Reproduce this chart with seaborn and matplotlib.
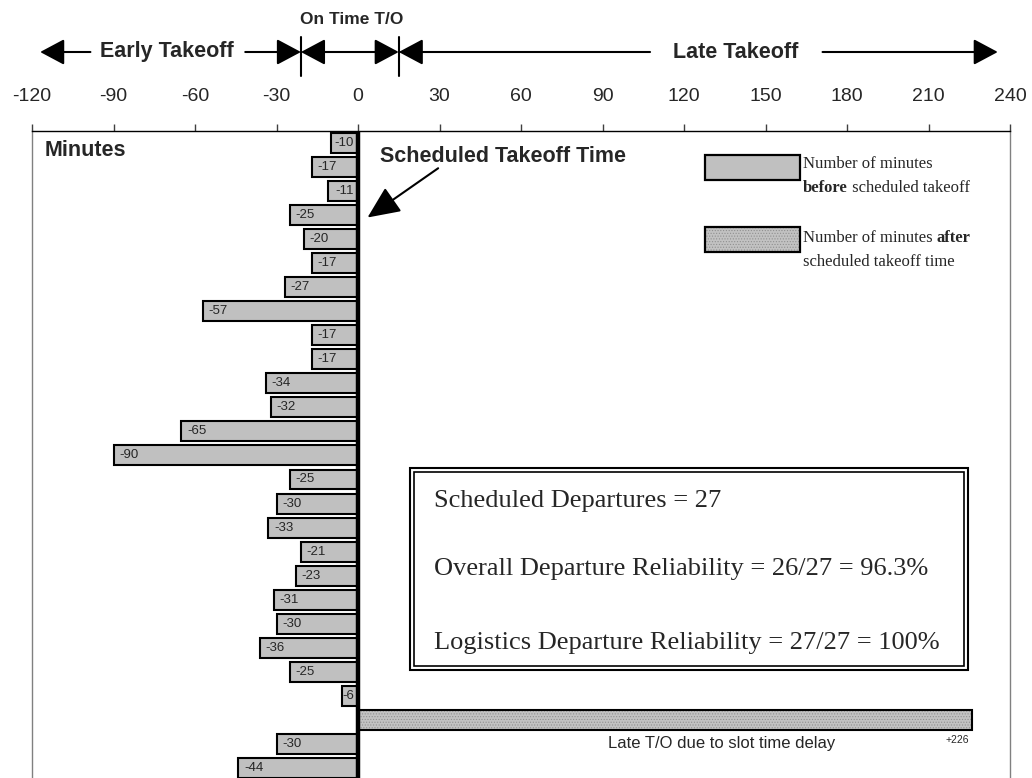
import matplotlib
matplotlib.use("Agg")
import matplotlib.pyplot as plt
import matplotlib.colors as mcolors
import matplotlib.transforms as mtransforms
from matplotlib.patches import Rectangle
import pandas as pd
import seaborn as sns

# ---------------- DATA ----------------

minutes = [-10, -17, -11, -25, -20, -17, -27, -57, -17, -17, -34, -32, -65, -90,
           -25, -30, -33, -21, -23, -31, -30, -36, -25, -6, 226, -30, -44]
flights = [str(i + 1) for i in range(len(minutes))]
timing = ["after" if m > 0 else "before" for m in minutes]
x_ticks = list(range(-120, 241, 30))
on_time_window = [-21, 15]
stats_lines = ["Scheduled Departures = 27",
               "Overall Departure Reliability = 26/27 = 96.3%",
               "Logistics Departure Reliability = 27/27 = 100%"]

df = pd.DataFrame({"flight": flights, "minutes": minutes, "timing": timing})

# ---------------- STYLE ----------------

sns.set_style("white")
plt.rcParams["font.family"] = ["Liberation Sans", "DejaVu Sans"]
plt.rcParams["hatch.linewidth"] = 0.5
SERIF = ["Liberation Serif", "DejaVu Serif"]

W, H = 1032, 778
fig = plt.figure(figsize=(W / 100, H / 100), dpi=100)


def fx(x):
    return x / W


def fy(y):
    return 1 - y / H


ax = fig.add_axes([fx(32), 0, 978 / W, 647 / H])

# ---------------- BARS ----------------

sns.barplot(data=df, x="minutes", y="flight", hue="timing", order=flights,
            palette={"before": "#c0c0c0", "after": "#c2c2c2"}, dodge=False,
            orient="h", width=0.83, edgecolor="black", linewidth=1.5,
            errorbar=None, legend=False, ax=ax)

for p in ax.patches:
    if p.get_width() > 0:
        p.set_hatch("......")
        p._hatch_color = mcolors.to_rgba("#909090")

ax.axvline(0, color="black", lw=3.2, zorder=5)

ax.set_xlim(-120, 240)
ax.set_ylim(len(minutes) - 1 + 0.42, -0.5)
ax.set_xlabel("")
ax.set_ylabel("")
ax.set_yticks([])
ax.xaxis.tick_top()
ax.set_xticks(x_ticks)
ax.set_xticklabels([str(t) for t in x_ticks])
ax.tick_params(axis="x", top=True, bottom=False, labeltop=True, labelbottom=False,
               direction="out", length=5, width=1, color="#404040", pad=14, labelsize=14)

ax.spines["bottom"].set_visible(False)
ax.spines["top"].set_color("black")
ax.spines["top"].set_linewidth(1)
for side in ["left", "right"]:
    ax.spines[side].set_color("#808080")
    ax.spines[side].set_linewidth(1)

# bar value labels
for i, m in enumerate(minutes):
    if m > 0:
        ax.text(m - 1, i + 0.85, f"+{m}", ha="right", va="center", fontsize=7.5)
        ax.text(134, i + 1.0, "Late T/O due to slot time delay", ha="center",
                va="center", fontsize=12)
    elif abs(m) <= 11:
        ax.annotate(str(m), xy=(0, i), xytext=(-3, 0), textcoords="offset points",
                    ha="right", va="center", fontsize=9.5, zorder=6)
    else:
        ax.annotate(str(m), xy=(m, i), xytext=(4, 0), textcoords="offset points",
                    ha="left", va="center", fontsize=9.5, zorder=6)

# ---------------- TOP ARROWS ----------------

trans = mtransforms.blended_transform_factory(ax.transData, fig.transFigure)
y_arr = fy(52)
head = dict(arrowstyle="-|>,head_length=0.75,head_width=0.4", mutation_scale=20,
            color="black", lw=1.5, shrinkA=0, shrinkB=0)


def arrow(tip, tail, style=None):
    props = dict(head)
    if style:
        props["arrowstyle"] = style
    ax.annotate("", xy=(tip, y_arr), xytext=(tail, y_arr), xycoords=trans,
                textcoords=trans, arrowprops=props, annotation_clip=False)


arrow(-117, -98.5)
arrow(on_time_window[0], -41.5)
arrow(on_time_window[1], on_time_window[0],
      "<|-|>,head_length=0.75,head_width=0.4")
arrow(on_time_window[1], 107.5)
arrow(235.5, 171)

for xv in on_time_window:
    ax.plot([xv, xv], [fy(37), fy(76)], color="black", lw=1.5, transform=trans,
            clip_on=False)

ax.text(-70.5, y_arr, "Early Takeoff", transform=trans, ha="center", va="center",
        fontsize=15.5, fontweight="bold")
ax.text(139, y_arr, "Late Takeoff", transform=trans, ha="center", va="center",
        fontsize=15.5, fontweight="bold")
ax.text(-2.5, fy(19), "On Time T/O", transform=trans, ha="center", va="center",
        fontsize=12.5, fontweight="bold")

# ---------------- INNER ANNOTATIONS ----------------

fig.text(fx(45), fy(151), "Minutes", ha="left", va="center", fontsize=15.5,
         fontweight="bold")
fig.text(fx(380), fy(156), "Scheduled Takeoff Time", ha="left", va="center",
         fontsize=15.5, fontweight="bold")
ax.annotate("", xy=(3.5, 3.1), xytext=(29.5, 1.05),
            arrowprops=dict(arrowstyle="-|>,head_length=1.0,head_width=0.45",
                            mutation_scale=20, color="black", lw=1.5,
                            shrinkA=0, shrinkB=0))

# legend (drawn by hand)
fig.add_artist(Rectangle((fx(705), fy(180)), 95 / W, 25 / H, transform=fig.transFigure,
                         facecolor="#c0c0c0", edgecolor="black", lw=1.6))
r2 = Rectangle((fx(705), fy(252)), 95 / W, 25 / H, transform=fig.transFigure,
               facecolor="#c2c2c2", edgecolor="black", lw=1.6, hatch="......")
r2._hatch_color = mcolors.to_rgba("#909090")
fig.add_artist(r2)

fig.text(fx(803), fy(164), "Number of minutes", ha="left", va="center",
         fontsize=12, family=SERIF)
t_before = fig.text(fx(803), fy(188), "before", ha="left", va="center",
                    fontsize=12, family=SERIF, fontweight="bold")
t_l2 = fig.text(fx(803), fy(238), "Number of minutes ", ha="left", va="center",
                fontsize=12, family=SERIF)
fig.text(fx(803), fy(262), "scheduled takeoff time", ha="left", va="center",
         fontsize=12, family=SERIF)

# stats text
stat_y = [501, 569, 643]
stat_texts = [fig.text(fx(434), fy(y), s, ha="left", va="center", fontsize=19,
                       family=SERIF) for s, y in zip(stats_lines, stat_y)]

fig.canvas.draw()
renderer = fig.canvas.get_renderer()

# second half of the mixed-weight legend lines
bb = t_before.get_window_extent(renderer)
fig.text(bb.x1 / W, fy(188), " scheduled takeoff", ha="left", va="center",
         fontsize=12, family=SERIF)
bb2 = t_l2.get_window_extent(renderer)
fig.text(bb2.x1 / W, fy(238), "after", ha="left", va="center", fontsize=12,
         family=SERIF, fontweight="bold")

# double border round the stats text
right = max(t.get_window_extent(renderer).x1 for t in stat_texts) + 24
fig.add_artist(Rectangle((fx(410), fy(670)), (right + 4 - 410) / W, 202 / H,
                         transform=fig.transFigure, fill=False, edgecolor="black", lw=1.5))
fig.add_artist(Rectangle((fx(414), fy(666)), (right - 414) / W, 194 / H,
                         transform=fig.transFigure, fill=False, edgecolor="black", lw=1.2))

fig.savefig("out.png", dpi=100)
